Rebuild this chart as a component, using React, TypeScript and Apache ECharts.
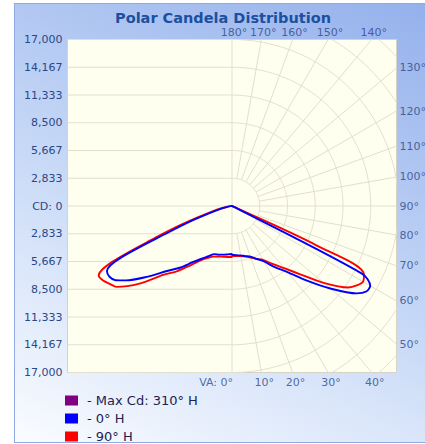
import React, { useEffect, useRef } from 'react';
import * as echarts from 'echarts';

// ---- data ----
const MAX_CD = 17000;
const CD_STEP = MAX_CD / 6;
const X_HALF = 16800; // horizontal half-extent of the plot (cd), keeps circles round

// vertical angles (degrees from nadir)
const vaAngles = [0, 5, 10, 15, 20, 25, 30, 35, 40, 45, 50, 55, 57.5, 60, 62.5, 65, 67.5, 70, 75, 80, 85, 90];
// 0° H plane (right half) and its opposite 180° H plane (left half)
const cd0H = [5000, 5030, 5120, 5300, 5500, 5970, 6530, 7630, 8800, 10730, 13100, 15550, 16250, 16300, 15000, 400, 150, 60, 20, 0, 0, 0];
const cd180H = [4900, 4955, 5045, 5135, 5225, 5660, 6220, 7010, 8200, 9390, 11210, 13240, 14100, 14450, 14400, 12600, 7000, 4300, 1500, 500, 150, 0];
// 90° H plane (right half) and 270° H plane (left half)
const cd90H = [5100, 5120, 5200, 5350, 5600, 5950, 6350, 7220, 8290, 9860, 12200, 14500, 15100, 15450, 15200, 9500, 300, 100, 30, 0, 0, 0];
const cd270H = [5200, 5220, 5260, 5340, 5500, 5850, 6400, 7390, 8670, 9950, 12330, 14400, 14800, 15200, 15350, 13500, 8500, 5400, 2000, 600, 150, 0];

const rightTicks = [130, 120, 110, 100, 90, 80, 70, 60, 50];
const topTicks = [180, 170, 160, 150, 140];
const bottomTicks = [0, 10, 20, 30, 40];
const legendNames = ['- Max Cd: 310° H', '- 0° H', '- 90° H'];
const legendColors = ['#800080', '#0000ff', '#ff0000'];

const FONT = 'DejaVu Sans';
const LABEL_COLOR = '#2a4888';
const GRID_COLOR = '#e2dfcf';
const CHART_H = 480;

const rad = (d: number) => (d * Math.PI) / 180;
const toXY = (va: number, cd: number, side: number) => [side * cd * Math.sin(rad(va)), -cd * Math.cos(rad(va))];

function curve(right: number[], left: number[]) {
  const pts: number[][] = [];
  for (let i = vaAngles.length - 1; i >= 0; i--) pts.push(toXY(vaAngles[i], right[i], 1));
  for (let i = 0; i < vaAngles.length; i++) pts.push(toXY(vaAngles[i], left[i], -1));
  return pts;
}

function gridSeries() {
  const s: any[] = [];
  const base = {
    type: 'line',
    silent: true,
    symbol: 'none',
    clip: true,
    z: 1,
    lineStyle: { color: GRID_COLOR, width: 1 },
    legendHoverLink: false,
  };
  // left half: horizontal lines
  for (let k = -6; k <= 6; k++) {
    s.push({ ...base, data: [[-X_HALF, k * CD_STEP], [0, k * CD_STEP]] });
  }
  // vertical centre line and right horizontal (90°)
  s.push({ ...base, data: [[0, -MAX_CD], [0, MAX_CD]] });
  s.push({ ...base, data: [[0, 0], [X_HALF, 0]] });
  // right half: arcs
  for (let k = 1; k <= 8; k++) {
    const r = k * CD_STEP;
    const d: number[][] = [];
    for (let a = 0; a <= 180; a += 1) d.push(toXY(a, r, 1));
    s.push({ ...base, data: d });
  }
  // right half: radial lines
  for (let a = 10; a < 180; a += 10) {
    if (a === 90) continue;
    s.push({ ...base, data: [toXY(a, CD_STEP, 1), toXY(a, 40000, 1)] });
  }
  return s;
}

function tickSeries() {
  const labelBase = { show: true, color: LABEL_COLOR, fontSize: 11, fontFamily: FONT };
  const right = rightTicks.map((a) => ({
    name: a + '°',
    value: [X_HALF, (-X_HALF * Math.cos(rad(a))) / Math.sin(rad(a))],
  }));
  const top = topTicks.map((a) => ({
    name: a + '°',
    value: [MAX_CD * Math.tan(rad(180 - a)), MAX_CD],
  }));
  const bottom = bottomTicks.map((a) => ({
    name: a === 0 ? 'VA: 0°' : a + '°',
    value: [MAX_CD * Math.tan(rad(a)), -MAX_CD],
    label: a === 0 ? { align: 'right', offset: [1, 0] } : { offset: [3, 0] },
  }));
  const base = { type: 'scatter', symbolSize: 0, silent: true, clip: false, z: 5, legendHoverLink: false };
  return [
    { ...base, data: right, label: { ...labelBase, position: 'right', distance: 3, formatter: '{b}' } },
    { ...base, data: top, label: { ...labelBase, position: 'top', distance: 2, offset: [2, 0], formatter: '{b}' } },
    { ...base, data: bottom, label: { ...labelBase, position: 'bottom', distance: 4, formatter: '{b}' } },
  ];
}

export default function App() {
  const ref = useRef<HTMLDivElement>(null);
  useEffect(() => {
    if (!ref.current) return;
    const chart = echarts.init(ref.current, undefined, { renderer: 'svg' });
    chart.setOption({
      animation: false,
      title: {
        text: 'Polar Candela Distribution',
        left: 218,
        top: 5,
        textAlign: 'center',
        textStyle: { fontFamily: FONT, fontSize: 14.5, fontWeight: 'bold', color: '#1c4f9e' },
      },
      grid: {
        left: 67.5,
        right: 28.5,
        top: 39.5,
        bottom: CHART_H - 372.5,
        show: true,
        backgroundColor: '#fffff0',
        borderColor: '#d6d3c4',
        borderWidth: 1,
      },
      xAxis: {
        type: 'value',
        min: -X_HALF,
        max: X_HALF,
        show: false,
        splitLine: { show: false },
      },
      yAxis: {
        type: 'value',
        min: -MAX_CD,
        max: MAX_CD,
        interval: CD_STEP,
        axisLine: { show: false },
        axisTick: { show: false },
        splitLine: { show: false },
        axisLabel: {
          margin: 5,
          color: LABEL_COLOR,
          fontSize: 11,
          fontFamily: FONT,
          showMinLabel: true,
          showMaxLabel: true,
          formatter: (v: number) => (Math.abs(v) < 1 ? 'CD: 0' : Math.round(Math.abs(v)).toLocaleString('en-US')),
        },
      },
      legend: {
        data: legendNames,
        orient: 'vertical',
        left: 65,
        top: 394,
        padding: 0,
        itemWidth: 13,
        itemHeight: 10,
        itemGap: 5,
        icon: 'rect',
        selectedMode: false,
        textStyle: { fontFamily: FONT, fontSize: 13, color: '#1c2350', padding: [0, 0, 0, 4] },
      },
      series: [
        ...gridSeries(),
        ...tickSeries(),
        { name: legendNames[0], type: 'line', data: [], itemStyle: { color: legendColors[0] }, z: 8 },
        {
          name: legendNames[1],
          type: 'line',
          data: curve(cd0H, cd180H),
          symbol: 'none',
          smooth: 0.3,
          z: 9,
          itemStyle: { color: legendColors[1] },
          lineStyle: { color: legendColors[1], width: 1.9 },
        },
        {
          name: legendNames[2],
          type: 'line',
          data: curve(cd90H, cd270H),
          symbol: 'none',
          smooth: 0.3,
          z: 8,
          itemStyle: { color: legendColors[2] },
          lineStyle: { color: legendColors[2], width: 1.9 },
        },
      ],
    });
    return () => chart.dispose();
  }, []);

  return (
    <div style={{ position: 'fixed', left: 0, top: 0, width: 425, height: 444, background: '#ffffff', overflow: 'hidden' }}>
      <div
        style={{
          position: 'absolute',
          left: 14,
          top: 3,
          width: 430,
          height: 438,
          border: '1px solid #8eaae0',
          background: 'linear-gradient(25deg, #fafcff 0%, #c9daf7 45%, #93b0ec 100%)',
        }}
      />
      <div ref={ref} style={{ position: 'absolute', left: 0, top: 0, width: 425, height: CHART_H }} />
    </div>
  );
}
